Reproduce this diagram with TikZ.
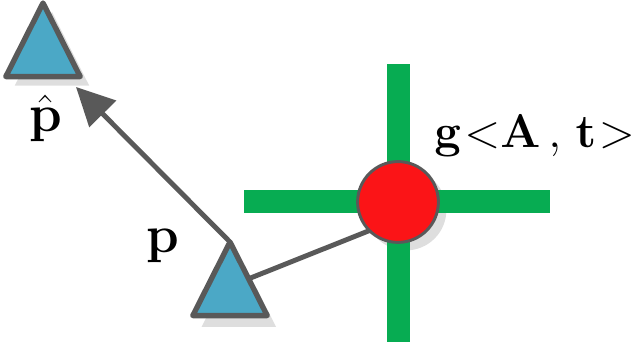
\documentclass[tikz,border=0pt]{standalone}
\usetikzlibrary{arrows.meta, shapes.geometric}
\definecolor{triFill}{HTML}{4BA8C6}
\definecolor{edgeGray}{HTML}{595959}
\definecolor{shadowGray}{HTML}{DEDEDE}
\definecolor{barGreen}{HTML}{07AC52}
\definecolor{dotRed}{HTML}{FB1417}

\begin{document}
\begin{tikzpicture}[
  tri/.style     ={isosceles triangle, isosceles triangle apex angle=54, isosceles triangle stretches,
                   shape border rotate=90, minimum width=1.86cm, minimum height=1.84cm,
                   inner sep=0pt, outer sep=0pt, anchor=apex},
  pose/.style    ={tri, fill=triFill, draw=edgeGray, line width=3.8pt, line join=round},
  poseShade/.style={tri, fill=shadowGray},
  bar/.style     ={rectangle, fill=barGreen, inner sep=0pt, outer sep=0pt},
  dot/.style     ={circle, minimum size=2.02cm, inner sep=0pt, outer sep=0pt},
  label/.style   ={font=\Huge, scale=1.5, inner sep=0pt},
  glabel/.style  ={font=\Huge, scale=1.35, inner sep=0pt, anchor=base west},
  link/.style    ={draw=edgeGray, line width=3.5pt},
  move/.style    ={-{Triangle[length=0.95cm, width=0.92cm]}, draw=edgeGray, line width=3.5pt},
]
\useasboundingbox (0,0) rectangle (15.9,8.75);

% ----- Shadows -----
\node[poseShade] (HATSHADE) at (1.3, 8.45) {};
\node[poseShade] (POSESHADE) at (5.97, 2.42) {};
\node[dot, fill=shadowGray] (DOTSHADE) at (10.15, 3.5) {};

% ----- Green cross -----
\node[bar, minimum width=7.65cm, minimum height=0.575cm] (HBAR) at (9.925, 3.7125) {};
\node[bar, minimum width=0.575cm, minimum height=6.95cm] (VBAR) at (9.96, 3.675) {};

% ----- Pose and feature -----
\node[pose] (HAT) at (1.075, 8.675) {};
\node[pose] (POSE) at (5.75, 2.7) {};
\node[dot, fill=dotRed, draw=edgeGray, line width=2.1pt] (FEAT) at (9.95, 3.7) {};

% ----- Arrows -----
\coordinate (TIP) at (1.9, 6.575);
\draw[move] (POSE.apex) -- (TIP);
\draw[link] (POSE.right side) -- (FEAT.225);

% ----- Labels -----
\node[label] (PHAT) at (1.15, 5.79) {$\hat{\mathbf{p}}$};
\node[label] (PLAB) at (4.06, 2.6) {$\mathbf{p}$};
\node[glabel] (GLAB) at (10.85, 5.05) {$\mathbf{g}\mkern1mu{<}\mathbf{A}\mkern3mu,\mkern2.5mu\mathbf{t}\mkern1mu{>}$};

\end{tikzpicture}
\end{document}
